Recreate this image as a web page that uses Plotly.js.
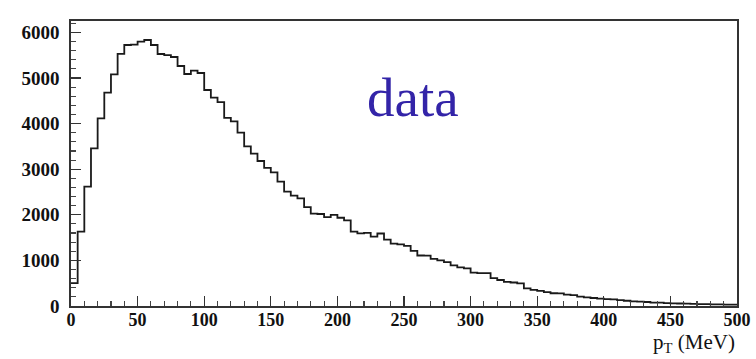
<!DOCTYPE html>
<html>
<head>
<meta charset="utf-8">
<script src="https://cdn.plot.ly/plotly-3.0.1.min.js"></script>
<style>
  html, body { margin: 0; padding: 0; background: #fff; }
  #chart { width: 756px; height: 359px; }
</style>
</head>
<body>
<div id="chart"></div>
<script>
// Histogram of pT (MeV), 5 MeV bins from 0 to 500
const binStart = 0;
const binWidth = 5;
const counts = [
  500, 1630, 2617, 3458, 4115, 4678, 5080, 5530, 5724, 5730,
  5796, 5833, 5724, 5526, 5500, 5460, 5263, 5088, 5160, 5110,
  4737, 4570, 4470, 4125, 4050, 3800, 3500, 3340, 3180, 3030,
  2930, 2727, 2507, 2420, 2361, 2170, 2025, 2018, 1950, 2000,
  1935, 1878, 1630, 1594, 1605, 1520, 1590, 1455, 1368, 1350,
  1320, 1210, 1107, 1105, 1035, 1000, 960, 890, 845, 826,
  731, 720, 720, 610, 570, 530, 515, 495, 385, 355,
  330, 305, 280, 275, 250, 240, 205, 190, 175, 160,
  150, 145, 130, 115, 100, 95, 88, 75, 72, 65,
  58, 55, 50, 48, 42, 40, 36, 34, 30, 28
];
const xTickVals = [0, 50, 100, 150, 200, 250, 300, 350, 400, 450, 500];
const yTickVals = [0, 1000, 2000, 3000, 4000, 5000, 6000];
const xTitle = "p<sub>T</sub> (MeV)";
const label = "data";

// build step outline from bin edges
const xs = [];
const ys = [];
counts.forEach((c, i) => { xs.push(binStart + i * binWidth); ys.push(c); });
xs.push(binStart + counts.length * binWidth);
ys.push(counts[counts.length - 1]);

const serif = "'Liberation Serif', 'Times New Roman', Times, serif";

const trace = {
  type: "scatter",
  mode: "lines",
  x: xs,
  y: ys,
  line: { shape: "hv", color: "#1a1a1a", width: 1.8 },
  hoverinfo: "skip"
};

const layout = {
  width: 756,
  height: 359,
  margin: { l: 71, r: 19, t: 21, b: 53 },
  paper_bgcolor: "#fff",
  plot_bgcolor: "#fff",
  showlegend: false,
  xaxis: {
    range: [0, 500],
    tickvals: xTickVals,
    ticktext: xTickVals.map(String),
    ticks: "inside",
    ticklen: 10,
    tickwidth: 1.3,
    tickcolor: "#333",
    minor: { dtick: 10, ticks: "inside", ticklen: 5, tickwidth: 1.1, tickcolor: "#444" },
    showline: true,
    linecolor: "#333",
    linewidth: 1.6,
    mirror: true,
    showgrid: false,
    zeroline: false,
    tickfont: { family: serif, size: 18, color: "#111", weight: "bold" },
    ticklabelstandoff: -3
  },
  yaxis: {
    range: [0, 6250],
    tickvals: yTickVals,
    ticktext: yTickVals.map(String),
    ticks: "inside",
    ticklen: 10,
    tickwidth: 1.3,
    tickcolor: "#333",
    minor: { dtick: 200, ticks: "inside", ticklen: 5, tickwidth: 1.1, tickcolor: "#444" },
    showline: true,
    linecolor: "#333",
    linewidth: 1.6,
    mirror: true,
    showgrid: false,
    zeroline: false,
    tickfont: { family: serif, size: 19, color: "#111", weight: "bold" },
    ticklabelstandoff: 6
  },
  annotations: [
    {
      text: xTitle,
      xref: "paper", yref: "paper",
      x: 1.0, y: -0.183,
      xanchor: "right", yanchor: "bottom",
      showarrow: false,
      font: { family: serif, size: 21, color: "#111" }
    },
    {
      text: label,
      xref: "paper", yref: "paper",
      x: 0.5135, y: 0.73,
      xanchor: "center", yanchor: "middle",
      showarrow: false,
      font: { family: serif, size: 55, color: "#3324a8" }
    }
  ]
};

Plotly.newPlot("chart", [trace], layout, { displayModeBar: false, staticPlot: true });
</script>
</body>
</html>
